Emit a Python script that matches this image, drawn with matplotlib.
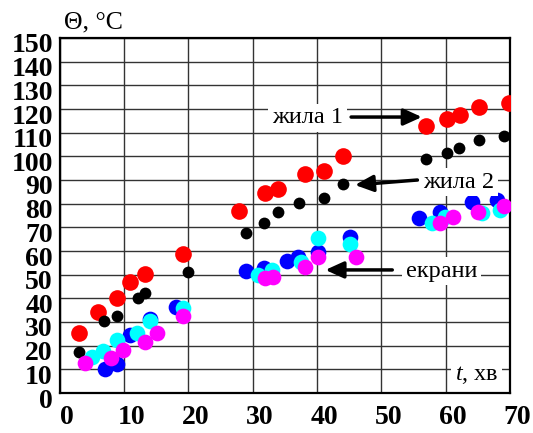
import matplotlib
matplotlib.use("Agg")
import matplotlib.pyplot as plt
import matplotlib.transforms as mtransforms

plt.rcParams['font.family'] = ['Liberation Serif', 'DejaVu Serif']
plt.rcParams['mathtext.fontset'] = 'custom'
plt.rcParams['mathtext.rm'] = 'Liberation Serif'
plt.rcParams['mathtext.it'] = 'Liberation Serif:italic'

# ---- data ----
t_core1 = [3.0, 5.9, 8.9, 10.9, 13.2, 19.1, 27.9, 31.9, 34.0, 38.1, 41.1, 44.1, 57.0, 60.2, 62.3, 65.2, 69.8]
v_core1 = [25.3, 34.3, 40.3, 46.8, 50.3, 58.6, 77.0, 84.4, 86.1, 92.5, 93.9, 100.1, 112.9, 115.6, 117.4, 121.0, 122.6]

t_core2 = [3.0, 6.9, 8.9, 12.2, 13.3, 20.0, 28.9, 31.8, 33.9, 37.2, 41.1, 44.1, 57.0, 60.2, 62.1, 65.2, 69.1]
v_core2 = [17.2, 30.5, 32.5, 40.3, 42.4, 51.2, 67.5, 72.0, 76.3, 80.1, 82.5, 88.2, 98.9, 101.5, 103.4, 106.9, 108.6]

t_scr1 = [7.05, 8.95, 10.9, 14.1, 18.1, 29.0, 31.8, 35.3, 37.1, 40.2, 45.1, 55.9, 59.1, 64.1, 68.0]
v_scr1 = [10.1, 12.3, 24.5, 31.1, 36.2, 51.5, 52.7, 55.8, 57.6, 59.4, 66.0, 73.8, 76.6, 80.8, 81.5]

t_scr2 = [5.0, 6.8, 8.9, 12.0, 14.0, 19.2, 30.9, 33.0, 37.5, 40.1, 45.1, 57.8, 59.9, 65.6, 68.5]
v_scr2 = [15.3, 17.7, 22.4, 25.5, 30.4, 35.8, 49.9, 52.0, 55.5, 65.6, 62.8, 72.0, 74.5, 76.2, 77.3]

t_scr3 = [3.9, 7.9, 9.9, 13.2, 15.2, 19.1, 31.9, 33.1, 38.1, 40.2, 46.1, 59.1, 61.1, 65.1, 69.0]
v_scr3 = [12.8, 14.9, 18.2, 21.7, 25.2, 32.5, 48.5, 49.2, 53.4, 57.6, 57.6, 71.7, 74.5, 76.6, 79.0]

x_ticks = [0, 10, 20, 30, 40, 50, 60, 70]
y_ticks = list(range(0, 151, 10))

label_core1 = "жила 1"
label_core2 = "жила 2"
label_screens = "екрани"
x_label = "$t$, хв"
y_label = "Θ, °C"

# ---- figure ----
fig = plt.figure(figsize=(5.33, 4.33), dpi=100)
ax = fig.add_axes([59.7 / 533, 40 / 433, (510 - 59.7) / 533, (393 - 38) / 433])
ax.set_xlim(0, 70)
ax.set_ylim(0, 150)
ax.set_xticks(x_ticks)
ax.set_yticks(y_ticks)
ax.grid(True, color='0.2', lw=1.0)
ax.set_axisbelow(True)
for s in ax.spines.values():
    s.set_linewidth(1.6)
    s.set_color('black')

ax.tick_params(length=0)
ax.tick_params(axis='y', pad=5)
ax.tick_params(axis='x', pad=9)
for lab in ax.get_xticklabels() + ax.get_yticklabels():
    lab.set_fontweight('bold')
    lab.set_fontsize(20)

dx = mtransforms.ScaledTranslation(7.5 / 100, 0, fig.dpi_scale_trans)
for lab in ax.get_xticklabels():
    lab.set_transform(lab.get_transform() + dx)
dy = mtransforms.ScaledTranslation(0, -5 / 100, fig.dpi_scale_trans)
for lab in ax.get_yticklabels():
    lab.set_transform(lab.get_transform() + dy)

# markers
ax.plot(t_core1, v_core1, 'o', color='#ff0000', ms=12, mew=0, zorder=3)
ax.plot(t_core2, v_core2, 'o', color='black', ms=8.5, mew=0, zorder=4)
ax.plot(t_scr1, v_scr1, 'o', color='#0000ff', ms=11.3, mew=0, zorder=5)
ax.plot(t_scr2, v_scr2, 'o', color='#00ffff', ms=11.3, mew=0, zorder=6)
ax.plot(t_scr3, v_scr3, 'o', color='#ff00ff', ms=11.3, mew=0, zorder=7)

box = dict(boxstyle='square,pad=0.15', fc='white', ec='none')
arrow = dict(arrowstyle='-|>,head_length=0.55,head_width=0.25', lw=2.5,
             color='black', shrinkA=0, shrinkB=0, mutation_scale=20)

ax.text(38.5, 116.2, label_core1, fontsize=17.5, ha='center', va='center', bbox=box, zorder=8)
ax.annotate('', xy=(56.3, 116.6), xytext=(45.3, 116.6), arrowprops=arrow, zorder=8)

ax.text(62.0, 89.1, label_core2, fontsize=17.5, ha='center', va='center', bbox=box, zorder=8)
ax.annotate('', xy=(45.9, 87.9), xytext=(55.6, 90.0), arrowprops=arrow, zorder=8)

ax.text(59.4, 51.5, label_screens, fontsize=17.5, ha='center', va='center', bbox=box, zorder=8)
ax.annotate('', xy=(41.3, 52.0), xytext=(51.7, 52.0), arrowprops=arrow, zorder=8)

ax.text(64.8, 7.6, x_label, fontsize=17.5, ha='center', va='center', bbox=box, zorder=8)

fig.text(64 / 533, 1 - 22 / 433, y_label, fontsize=18.5, ha='left', va='center')

fig.savefig('out.png', dpi=100)
